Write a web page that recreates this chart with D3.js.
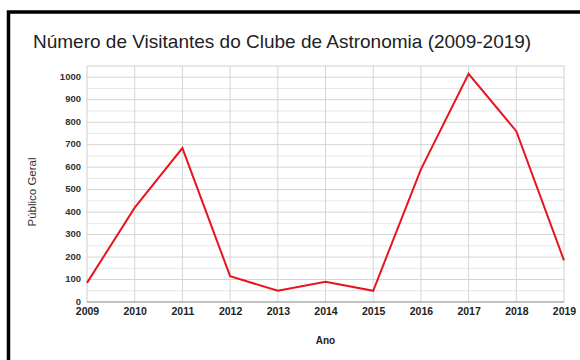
<!DOCTYPE html>
<html>
<head>
<meta charset="utf-8">
<script src="https://cdn.jsdelivr.net/npm/d3@7"></script>
<style>
  html, body { margin: 0; padding: 0; background: #fff; }
  svg { display: block; }
</style>
</head>
<body>
<svg id="chart" width="580" height="360"></svg>
<script>
// Visitors per year
const years = [2009, 2010, 2011, 2012, 2013, 2014, 2015, 2016, 2017, 2018, 2019];
const visitors = [85, 420, 685, 115, 50, 90, 50, 590, 1015, 760, 185];
const yTicks = [0, 100, 200, 300, 400, 500, 600, 700, 800, 900, 1000];

const titleText = "Número de Visitantes do Clube de Astronomia (2009-2019)";
const xTitle = "Ano";
const yTitle = "Público Geral";

const svg = d3.select("#chart");
const font = "'Liberation Sans', Arial, sans-serif";

// Outer frame
svg.append("rect")
  .attr("x", 8.5).attr("y", 12)
  .attr("width", 640).attr("height", 400)
  .attr("fill", "none")
  .attr("stroke", "#000")
  .attr("stroke-width", 3.5);

const plot = { left: 87, right: 564, top: 66, bottom: 302 };

const x = d3.scaleLinear()
  .domain(d3.extent(years))
  .range([plot.left, plot.right]);

const y = d3.scaleLinear()
  .domain([0, 1050])
  .range([plot.bottom, plot.top]);

// Minor horizontal grid (every 50)
const g = svg.append("g");
g.selectAll("line.minor")
  .data(d3.range(50, 1050, 100))
  .join("line")
  .attr("x1", plot.left).attr("x2", plot.right)
  .attr("y1", d => y(d)).attr("y2", d => y(d))
  .attr("stroke", "#e6e6e6").attr("stroke-width", 1);

// Major horizontal grid
g.selectAll("line.major")
  .data(yTicks.slice(1))
  .join("line")
  .attr("x1", plot.left).attr("x2", plot.right)
  .attr("y1", d => y(d)).attr("y2", d => y(d))
  .attr("stroke", "#d4d4d4").attr("stroke-width", 1);

// Vertical grid
g.selectAll("line.vert")
  .data(years.slice(1, -1))
  .join("line")
  .attr("x1", d => x(d)).attr("x2", d => x(d))
  .attr("y1", plot.top).attr("y2", plot.bottom)
  .attr("stroke", "#d4d4d4").attr("stroke-width", 1);

// Plot border
svg.append("rect")
  .attr("x", plot.left).attr("y", plot.top)
  .attr("width", plot.right - plot.left)
  .attr("height", plot.bottom - plot.top)
  .attr("fill", "none")
  .attr("stroke", "#d0d0d0").attr("stroke-width", 1);

// Baseline
svg.append("line")
  .attr("x1", plot.left).attr("x2", plot.right)
  .attr("y1", y(0)).attr("y2", y(0))
  .attr("stroke", "#999").attr("stroke-width", 1);

// Y axis labels
const yAxis = d3.axisLeft(y).tickValues(yTicks).tickFormat(d3.format("d")).tickSize(0).tickPadding(6);
svg.append("g")
  .attr("transform", `translate(${plot.left},-1)`)
  .call(yAxis)
  .call(s => s.select(".domain").remove())
  .selectAll("text")
  .attr("font-family", font)
  .attr("font-size", 9.5)
  .attr("font-weight", "bold")
  .attr("fill", "#333");

// X axis labels
const xAxis = d3.axisBottom(x).tickValues(years).tickFormat(d3.format("d")).tickSize(0).tickPadding(6);
svg.append("g")
  .attr("transform", `translate(0,${plot.bottom})`)
  .call(xAxis)
  .call(s => s.select(".domain").remove())
  .selectAll("text")
  .attr("font-family", font)
  .attr("font-size", 10.5)
  .attr("font-weight", "bold")
  .attr("fill", "#222");

// Data line
const line = d3.line()
  .x((d, i) => x(years[i]))
  .y(d => y(d));

svg.append("path")
  .datum(visitors)
  .attr("d", line)
  .attr("fill", "none")
  .attr("stroke", "#e8141e")
  .attr("stroke-width", 2)
  .attr("stroke-linejoin", "miter");

// Title
svg.append("text")
  .attr("x", 33).attr("y", 48)
  .attr("font-family", font)
  .attr("font-size", 19)
  .attr("fill", "#222")
  .text(titleText);

// Axis titles
svg.append("text")
  .attr("x", (plot.left + plot.right) / 2).attr("y", 344)
  .attr("text-anchor", "middle")
  .attr("font-family", font)
  .attr("font-size", 10)
  .attr("font-weight", "bold")
  .attr("fill", "#222")
  .text(xTitle);

svg.append("text")
  .attr("transform", "translate(36,192) rotate(-90)")
  .attr("text-anchor", "middle")
  .attr("font-family", font)
  .attr("font-size", 11.5)
  .attr("fill", "#333")
  .text(yTitle);
</script>
</body>
</html>
